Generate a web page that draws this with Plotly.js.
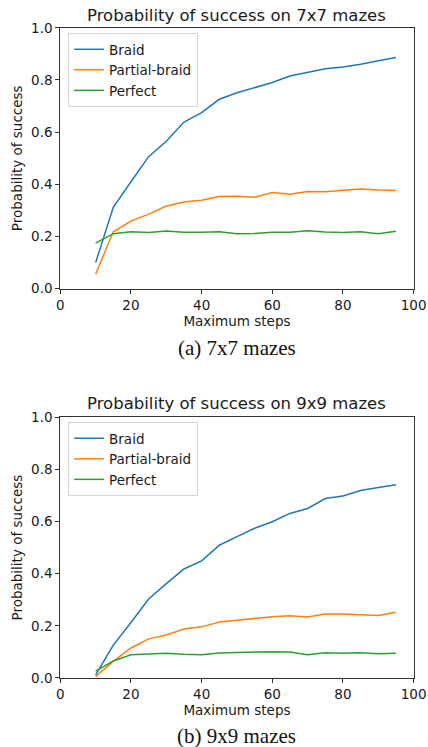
<!DOCTYPE html>
<html>
<head>
<meta charset="utf-8">
<script src="https://cdn.plot.ly/plotly-3.0.1.min.js"></script>
<style>html,body{margin:0;padding:0;background:#fff;}#chart{width:428px;height:747px;}</style>
</head>
<body>
<div id="chart"></div>
<script>
const steps = [10,15,20,25,30,35,40,45,50,55,60,65,70,75,80,85,90,95];
const seriesNames = ["Braid","Partial-braid","Perfect"];
const maze7Braid = [0.10,0.312,0.41,0.506,0.565,0.639,0.675,0.726,0.751,0.772,0.790,0.815,0.829,0.843,0.850,0.860,0.874,0.886];
const maze7Partial = [0.056,0.218,0.259,0.286,0.317,0.332,0.339,0.353,0.354,0.351,0.369,0.362,0.373,0.372,0.377,0.382,0.378,0.376];
const maze7Perfect = [0.175,0.211,0.218,0.215,0.221,0.216,0.216,0.218,0.211,0.212,0.216,0.216,0.222,0.217,0.215,0.218,0.211,0.220];
const maze9Braid = [0.012,0.126,0.213,0.303,0.362,0.418,0.449,0.509,0.542,0.574,0.599,0.631,0.650,0.688,0.698,0.719,0.730,0.741];
const maze9Partial = [0.005,0.064,0.115,0.150,0.165,0.188,0.196,0.215,0.221,0.228,0.235,0.239,0.234,0.245,0.245,0.242,0.240,0.252];
const maze9Perfect = [0.026,0.065,0.089,0.092,0.095,0.091,0.089,0.096,0.098,0.098,0.101,0.100,0.089,0.097,0.095,0.097,0.093,0.095];
const titles = ["Probability of success on 7x7 mazes","Probability of success on 9x9 mazes"];
const captions = ["(a) 7x7 mazes","(b) 9x9 mazes"];
const xLabel = "Maximum steps";
const yLabel = "Probability of success";
const colors = ["#1f77b4","#ff7f0e","#2ca02c"];

const sets = [[maze7Braid,maze7Partial,maze7Perfect],[maze9Braid,maze9Partial,maze9Perfect]];
const traces = [];
sets.forEach((set, p) => {
  set.forEach((vals, i) => {
    traces.push({
      x: steps, y: vals, type: 'scatter', mode: 'lines',
      name: seriesNames[i],
      line: {color: colors[i], width: 1.5},
      xaxis: p === 0 ? 'x' : 'x2',
      yaxis: p === 0 ? 'y' : 'y2',
      legend: p === 0 ? 'legend' : 'legend2'
    });
  });
});

const font = {family: 'DejaVu Sans', size: 13.5, color: '#1a1a1a'};
function xax(domain, anchor) {
  return {domain: domain, anchor: anchor, range: [0,100], tickvals: [0,20,40,60,80,100],
    ticks: 'outside', ticklen: 4, tickwidth: 1, tickcolor: '#333',
    showline: true, mirror: true, linecolor: '#333', linewidth: 1,
    showgrid: false, zeroline: false, tickfont: font,
    title: {text: xLabel, font: font, standoff: 2}};
}
function yax(domain, anchor) {
  return {domain: domain, anchor: anchor, range: [0,1], tickvals: [0,0.2,0.4,0.6,0.8,1.0],
    tickformat: '.1f', ticks: 'outside', ticklen: 4, tickwidth: 1, tickcolor: '#333',
    showline: true, mirror: true, linecolor: '#333', linewidth: 1,
    showgrid: false, zeroline: false, tickfont: font,
    title: {text: yLabel, font: font, standoff: 5}};
}
const legendStyle = (y) => ({x: 0.159, y: y, xanchor: 'left', yanchor: 'top',
  bgcolor: 'rgba(255,255,255,0.8)', bordercolor: '#d6d6d6', borderwidth: 1,
  font: {family: 'DejaVu Sans', size: 13.5, color: '#1a1a1a'}, tracegroupgap: 0, itemwidth: 30});

const H = 747;
const layout = {
  width: 428, height: 747,
  margin: {l: 0, r: 0, t: 0, b: 0},
  paper_bgcolor: '#fff', plot_bgcolor: '#fff',
  xaxis: xax([0.1409, 0.9664], 'y'),
  yaxis: yax([0.6135, 0.9628], 'x'),
  xaxis2: xax([0.1409, 0.9664], 'y2'),
  yaxis2: yax([0.0924, 0.4415], 'x2'),
  legend: legendStyle(1 - 33/H),
  legend2: legendStyle(1 - 422/H),
  annotations: [
    {text: titles[0], y: 1 - 15/H, font: {family: 'DejaVu Sans', size: 16.5, color: '#1a1a1a'}},
    {text: titles[1], y: 1 - 404/H, font: {family: 'DejaVu Sans', size: 16.5, color: '#1a1a1a'}},
    {text: captions[0], y: 1 - 348/H, font: {family: 'Liberation Serif', size: 21, color: '#111'}},
    {text: captions[1], y: 1 - 736/H, font: {family: 'Liberation Serif', size: 21, color: '#111'}}
  ].map(a => Object.assign(a, {x: 0.5537, xref: 'paper', yref: 'paper', showarrow: false, xanchor: 'center', yanchor: 'middle'}))
};

Plotly.newPlot('chart', traces, layout, {displayModeBar: false, staticPlot: true});
</script>
</body>
</html>
